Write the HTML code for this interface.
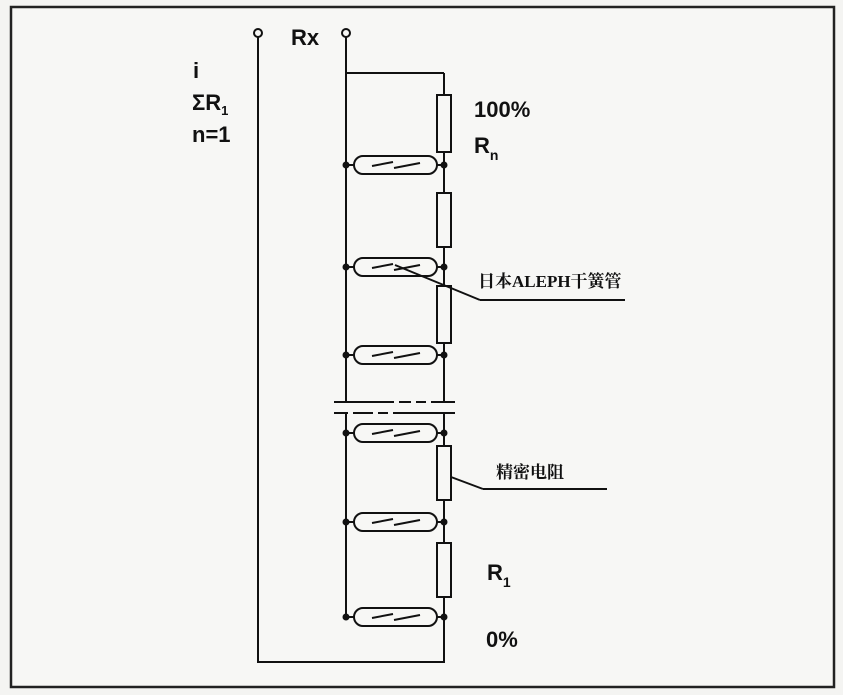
<!DOCTYPE html>
<html><head><meta charset="utf-8"><style>
html,body{margin:0;padding:0;background:#f4f4f2;}
svg{display:block}
.t{font-family:"Liberation Sans",sans-serif;font-size:22px;fill:#111;font-weight:bold}
.c{font-family:"Liberation Serif","Noto Serif CJK SC",serif;font-size:17px;font-weight:bold;fill:#111}
</style></head><body>
<svg width="843" height="695" viewBox="0 0 843 695" xmlns="http://www.w3.org/2000/svg">
<rect x="0" y="0" width="843" height="695" fill="#f4f4f2"/>
<rect x="11" y="7" width="823" height="680" fill="#f7f7f5" stroke="#222" stroke-width="2.5"/>
<g stroke="#111" stroke-width="2" fill="none">
<circle cx="258" cy="33" r="4" fill="#f7f7f5"/>
<circle cx="346" cy="33" r="4" fill="#f7f7f5"/>
<line x1="258" y1="37" x2="258" y2="662"/>
<line x1="257" y1="662" x2="445" y2="662"/>
<line x1="346" y1="37" x2="346" y2="402"/>
<line x1="346" y1="414" x2="346" y2="617"/>
<line x1="345" y1="73" x2="444" y2="73"/>
<line x1="444" y1="73" x2="444" y2="402"/>
<line x1="444" y1="414" x2="444" y2="662"/>
<line x1="334" y1="402" x2="455" y2="402" stroke-dasharray="60 5 12 5 10 5 60"/>
<line x1="334" y1="413" x2="455" y2="413" stroke-dasharray="14 5 20 5 10 5 70"/>
<g fill="#f7f7f5">
<rect x="437" y="95" width="14" height="57"/>
<rect x="437" y="193" width="14" height="54"/>
<rect x="437" y="286" width="14" height="57"/>
<rect x="437" y="446" width="14" height="54"/>
<rect x="437" y="543" width="14" height="54"/>
</g>
<line x1="395" y1="265" x2="480" y2="300"/>
<line x1="480" y1="300" x2="625" y2="300"/>
<line x1="451" y1="477" x2="483" y2="489"/>
<line x1="483" y1="489" x2="607" y2="489"/>
</g>
<g stroke="#111" stroke-width="2" fill="none">
<g transform="translate(0,165)"><rect x="354" y="-9" width="83" height="18" rx="9"/><line x1="346" y1="0" x2="354" y2="0"/><line x1="437" y1="0" x2="444" y2="0"/><line x1="372" y1="1" x2="393" y2="-3"/><line x1="394" y1="3" x2="420" y2="-2"/></g>
<g transform="translate(0,267)"><rect x="354" y="-9" width="83" height="18" rx="9"/><line x1="346" y1="0" x2="354" y2="0"/><line x1="437" y1="0" x2="444" y2="0"/><line x1="372" y1="1" x2="393" y2="-3"/><line x1="394" y1="3" x2="420" y2="-2"/></g>
<g transform="translate(0,355)"><rect x="354" y="-9" width="83" height="18" rx="9"/><line x1="346" y1="0" x2="354" y2="0"/><line x1="437" y1="0" x2="444" y2="0"/><line x1="372" y1="1" x2="393" y2="-3"/><line x1="394" y1="3" x2="420" y2="-2"/></g>
<g transform="translate(0,433)"><rect x="354" y="-9" width="83" height="18" rx="9"/><line x1="346" y1="0" x2="354" y2="0"/><line x1="437" y1="0" x2="444" y2="0"/><line x1="372" y1="1" x2="393" y2="-3"/><line x1="394" y1="3" x2="420" y2="-2"/></g>
<g transform="translate(0,522)"><rect x="354" y="-9" width="83" height="18" rx="9"/><line x1="346" y1="0" x2="354" y2="0"/><line x1="437" y1="0" x2="444" y2="0"/><line x1="372" y1="1" x2="393" y2="-3"/><line x1="394" y1="3" x2="420" y2="-2"/></g>
<g transform="translate(0,617)"><rect x="354" y="-9" width="83" height="18" rx="9"/><line x1="346" y1="0" x2="354" y2="0"/><line x1="437" y1="0" x2="444" y2="0"/><line x1="372" y1="1" x2="393" y2="-3"/><line x1="394" y1="3" x2="420" y2="-2"/></g>
</g>
<g fill="#111">
<circle cx="346" cy="165" r="3.5"/><circle cx="444" cy="165" r="3.5"/>
<circle cx="346" cy="267" r="3.5"/><circle cx="444" cy="267" r="3.5"/>
<circle cx="346" cy="355" r="3.5"/><circle cx="444" cy="355" r="3.5"/>
<circle cx="346" cy="433" r="3.5"/><circle cx="444" cy="433" r="3.5"/>
<circle cx="346" cy="522" r="3.5"/><circle cx="444" cy="522" r="3.5"/>
<circle cx="346" cy="617" r="3.5"/><circle cx="444" cy="617" r="3.5"/>
</g>
<text class="t" x="193" y="78">i</text>
<text class="t" x="192" y="110">ΣR<tspan font-size="13" dy="5">1</tspan></text>
<text class="t" x="192" y="142">n=1</text>
<text class="t" x="291" y="45">Rx</text>
<text class="t" x="474" y="117">100%</text>
<text class="t" x="474" y="153">R<tspan font-size="14" dy="7">n</tspan></text>
<text class="t" x="487" y="580">R<tspan font-size="14" dy="7">1</tspan></text>
<text class="t" x="486" y="647">0%</text>
<text class="c" x="478" y="287">日本ALEPH干簧管</text>
<text class="c" x="496" y="478">精密电阻</text>
</svg>
</body></html>
